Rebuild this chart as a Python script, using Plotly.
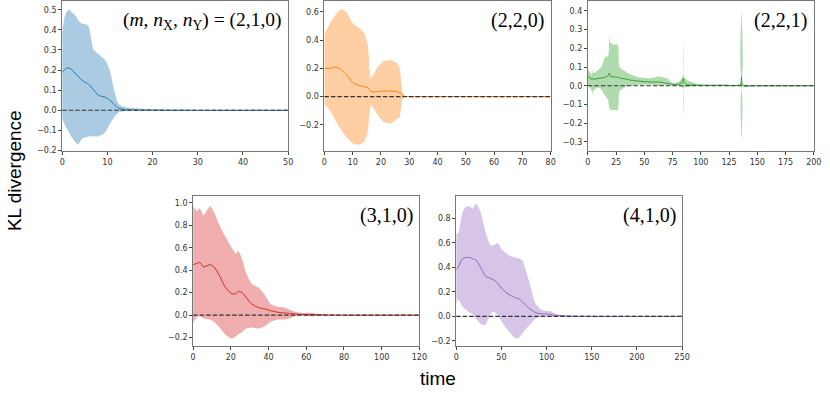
import plotly.graph_objects as go

# panel (2,1,0)
t1 = [0, 0.5, 1, 1.5, 2, 3, 3.5, 4.4, 5, 5.8, 7, 8, 9, 9.5, 10.5, 11.5, 12.5, 14, 16, 20, 25, 30, 40, 50]
m1 = [0.19, 0.20, 0.21, 0.21, 0.205, 0.18, 0.17, 0.15, 0.14, 0.13, 0.10, 0.075, 0.068, 0.065, 0.05, 0.03, 0.01, 0.003, 0.002, 0.001, 0, 0, 0, 0]
u1 = [0.39, 0.46, 0.49, 0.50, 0.49, 0.47, 0.45, 0.43, 0.43, 0.42, 0.30, 0.28, 0.26, 0.25, 0.20, 0.10, 0.03, 0.015, 0.01, 0.005, 0.002, 0.001, 0, 0]
l1 = [-0.04, -0.07, -0.09, -0.11, -0.13, -0.16, -0.17, -0.14, -0.135, -0.13, -0.13, -0.13, -0.12, -0.11, -0.07, -0.035, -0.01, -0.004, -0.002, -0.001, 0, 0, 0, 0]

# panel (2,2,0)
t2 = [0, 2, 4, 6, 8, 10, 12, 14, 15.3, 16.5, 18.5, 21, 23.5, 25.5, 26.5, 27.3, 28, 30, 40, 60, 80]
m2 = [0.20, 0.20, 0.21, 0.19, 0.15, 0.10, 0.08, 0.07, 0.065, 0.035, 0.035, 0.04, 0.04, 0.035, 0.03, 0.02, 0.003, 0, 0, 0, 0]
u2 = [0.44, 0.52, 0.58, 0.62, 0.59, 0.52, 0.49, 0.45, 0.37, 0.13, 0.20, 0.25, 0.26, 0.24, 0.21, 0.08, 0.01, 0.002, 0, 0, 0]
l2 = [-0.05, -0.10, -0.17, -0.24, -0.29, -0.33, -0.34, -0.32, -0.25, -0.06, -0.12, -0.18, -0.19, -0.16, -0.15, -0.05, -0.005, 0, 0, 0, 0]

# panel (2,2,1)
t3 = [0, 2, 3.5, 4, 4.5, 6, 8, 10, 12, 15, 18, 19, 20, 23, 26.5, 28, 32, 38, 45, 55, 63, 70, 75, 80, 84, 84.5, 85, 88, 92, 100, 120, 135, 136, 137, 150, 200]
m3 = [0.05, 0.04, 0.035, 0.04, 0.035, 0.035, 0.038, 0.04, 0.042, 0.045, 0.055, 0.068, 0.05, 0.048, 0.045, 0.042, 0.038, 0.03, 0.025, 0.02, 0.02, 0.013, 0.008, 0.008, 0.02, 0.04, 0.02, 0.005, 0.004, 0.003, 0.003, 0.005, 0.05, 0.002, 0, 0]
u3 = [0.09, 0.07, 0.06, 0.21, 0.07, 0.07, 0.08, 0.09, 0.10, 0.15, 0.16, 0.27, 0.23, 0.22, 0.22, 0.10, 0.08, 0.06, 0.045, 0.04, 0.05, 0.04, 0.015, 0.02, 0.05, 0.26, 0.05, 0.03, 0.02, 0.005, 0.005, 0.01, 0.41, 0.01, 0, 0]
l3 = [0.0, -0.01, -0.03, -0.05, -0.03, -0.02, -0.01, -0.01, -0.02, -0.05, -0.08, -0.12, -0.13, -0.13, -0.13, -0.03, -0.01, 0.0, 0.005, 0.005, 0.0, 0.003, 0.002, 0.0, -0.01, -0.17, -0.01, -0.005, -0.002, 0.0, 0.0, 0.0, -0.30, 0.0, 0, 0]

# panel (3,1,0)
t4 = [0, 2, 3.5, 5.5, 9, 11, 14, 17, 20.5, 22.5, 24, 26, 28, 31, 35, 38, 41, 45, 48, 51, 54, 58, 63, 68, 72, 80, 100, 120]
m4 = [0.45, 0.46, 0.47, 0.43, 0.45, 0.43, 0.35, 0.25, 0.19, 0.19, 0.21, 0.20, 0.16, 0.10, 0.065, 0.055, 0.04, 0.025, 0.02, 0.015, 0.01, 0.006, 0.004, 0.002, 0.001, 0, 0, 0]
u4 = [0.97, 0.93, 0.95, 0.89, 0.97, 0.92, 0.80, 0.70, 0.60, 0.55, 0.57, 0.50, 0.38, 0.28, 0.24, 0.18, 0.10, 0.075, 0.07, 0.05, 0.03, 0.02, 0.02, 0.01, 0.003, 0, 0, 0]
l4 = [-0.07, -0.02, -0.01, -0.03, -0.04, -0.06, -0.11, -0.17, -0.21, -0.19, -0.17, -0.15, -0.12, -0.11, -0.12, -0.10, -0.06, -0.04, -0.04, -0.03, -0.01, -0.005, -0.01, -0.003, -0.001, 0, 0, 0]

# panel (4,1,0)
t5 = [0, 2, 7, 10, 15, 18, 22, 27, 32, 38, 41, 46, 50, 58, 66, 70, 73, 80, 88, 95, 100, 105, 110, 118, 130, 150, 200, 250]
m5 = [0.38, 0.40, 0.47, 0.48, 0.48, 0.47, 0.46, 0.40, 0.33, 0.31, 0.30, 0.27, 0.23, 0.18, 0.15, 0.14, 0.12, 0.07, 0.03, 0.02, 0.02, 0.015, 0.008, 0.004, 0.002, 0, 0, 0]
u5 = [0.68, 0.67, 0.85, 0.89, 0.90, 0.88, 0.92, 0.85, 0.70, 0.58, 0.58, 0.60, 0.55, 0.50, 0.48, 0.47, 0.46, 0.30, 0.10, 0.05, 0.045, 0.04, 0.02, 0.01, 0.003, 0, 0, 0]
l5 = [0.10, 0.14, 0.08, 0.06, 0.03, 0.02, -0.02, -0.06, -0.07, 0.02, 0.04, 0.01, -0.04, -0.12, -0.18, -0.17, -0.14, -0.08, -0.02, 0.0, -0.002, -0.005, -0.003, -0.001, 0, 0, 0, 0]

labels = ["(<i>m</i>, <i>n</i><sub>X</sub>, <i>n</i><sub>Y</sub>) = (2,1,0)", "(2,2,0)", "(2,2,1)", "(3,1,0)", "(4,1,0)"]
colors = [(31, 119, 180), (255, 127, 14), (44, 160, 44), (214, 39, 40), (148, 103, 189)]
data = [(t1, m1, u1, l1), (t2, m2, u2, l2), (t3, m3, u3, l3), (t4, m4, u4, l4), (t5, m5, u5, l5)]

xranges = [[0, 50], [0, 80], [0, 200], [0, 120], [0, 250]]
xdtick = [10, 10, 25, 20, 50]
yranges = [[-0.205, 0.544], [-0.388, 0.677], [-0.351, 0.453], [-0.279, 1.059], [-0.246, 0.981]]
ydtick = [0.1, 0.2, 0.1, 0.2, 0.2]

W, H = 830, 393
# pixel boxes (left, right, top, bottom)
boxes = [(60, 289, 1, 153), (325.7, 555, 1, 153), (592.7, 821.7, 1, 153),
         (192.7, 422, 198.3, 350), (459.3, 688.3, 198.3, 350)]

fig = go.Figure()
for i, ((t, m, u, l), c) in enumerate(zip(data, colors)):
    ax = "" if i == 0 else str(i + 1)
    xa, ya = "x" + ax, "y" + ax
    fill = "rgba(%d,%d,%d,0.38)" % c
    line = "rgb(%d,%d,%d)" % c
    fig.add_trace(go.Scatter(x=t, y=l, mode="lines", line=dict(width=0, shape="spline", smoothing=0.6),
                             xaxis=xa, yaxis=ya, showlegend=False, hoverinfo="skip"))
    fig.add_trace(go.Scatter(x=t, y=u, mode="lines", line=dict(width=0, shape="spline", smoothing=0.6),
                             fill="tonexty", fillcolor=fill, xaxis=xa, yaxis=ya, showlegend=False, hoverinfo="skip"))
    fig.add_trace(go.Scatter(x=t, y=m, mode="lines", line=dict(width=1, color=line, shape="spline", smoothing=0.6),
                             xaxis=xa, yaxis=ya, showlegend=False))
    fig.add_shape(type="line", xref=xa + " domain", yref=ya, x0=0, x1=1, y0=0, y1=0,
                  line=dict(color="#333333", width=1.2, dash="4.5px,2px"))

    x0, x1, y0, y1 = boxes[i]
    axis_style = dict(showline=True, linecolor="#777777", linewidth=1, mirror=True,
                      ticks="outside", ticklen=3, tickcolor="#444444", showgrid=False, zeroline=False,
                      tickfont=dict(family="DejaVu Sans", size=8, color="#333333"))
    fig.layout["xaxis" + ax] = dict(domain=[x0 / W, x1 / W], range=xranges[i], dtick=xdtick[i], tick0=0,
                                    anchor=ya, **axis_style)
    fig.layout["yaxis" + ax] = dict(domain=[1 - y1 / H, 1 - y0 / H], range=yranges[i], dtick=ydtick[i], tick0=0,
                                    tickformat=".1f", anchor=xa, **axis_style)
    fig.add_annotation(text=labels[i], xref=xa + " domain", yref=ya + " domain", x=0.975, y=0.955,
                       xanchor="right", yanchor="top", showarrow=False, borderpad=0,
                       font=dict(family="Liberation Serif", size=19.5 if i == 0 else 20, color="black"))

fig.add_annotation(text="KL divergence", xref="paper", yref="paper", x=11 / W, y=1 - 172 / H,
                   xanchor="center", yanchor="middle", textangle=-90, showarrow=False,
                   font=dict(family="Liberation Sans", size=19, color="black"))
fig.add_annotation(text="time", xref="paper", yref="paper", x=441 / W, y=1 - 382 / H,
                   xanchor="center", yanchor="middle", showarrow=False,
                   font=dict(family="Liberation Sans", size=19, color="black"))

fig.update_layout(width=W, height=H, margin=dict(l=0, r=0, t=0, b=0),
                  plot_bgcolor="white", paper_bgcolor="white")
fig.write_html("out.html", config={"displayModeBar": False},
               post_script="document.body.style.margin='0';")
